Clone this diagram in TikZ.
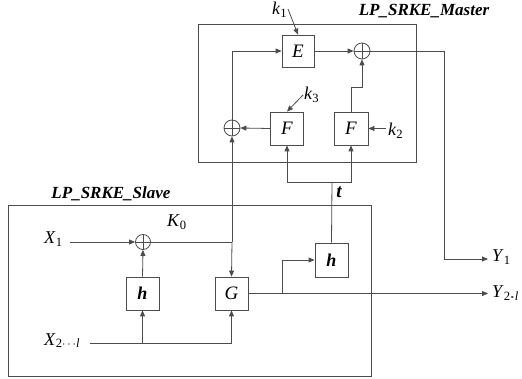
\documentclass[tikz,border=0pt]{standalone}
\usepackage{fontspec}
\setmainfont{Liberation Serif}
\usetikzlibrary{arrows.meta}
\begin{document}
\begin{tikzpicture}[x=1pt,y=-1pt,
  line/.style={draw=black!70, line width=0.8pt},
  arr/.style={line, -{Triangle[length=6pt,width=5pt]}},
  blk/.style={draw=black!70, line width=0.8pt, minimum width=33pt, minimum height=33pt, inner sep=0pt, font=\fontsize{19}{19}\selectfont\itshape},
  hblk/.style={blk, font=\fontsize{18}{18}\selectfont\bfseries\itshape},
  xorn/.style={circle, draw=black!70, line width=0.8pt, minimum size=16pt, inner sep=0pt,
     path picture={\draw[black!70,line width=0.8pt] (path picture bounding box.north) -- (path picture bounding box.south) (path picture bounding box.west) -- (path picture bounding box.east);}},
  lbl/.style={font=\fontsize{18}{18}\selectfont, inner sep=1pt, anchor=base west},
  title/.style={font=\fontsize{17}{17}\selectfont\bfseries\itshape, inner sep=0pt, anchor=base}
]
\useasboundingbox (0,0) rectangle (522,379);
% frames
\node[draw=black!70, line width=0.8pt, minimum width=218pt, minimum height=138pt, inner sep=0pt] (master) at (307,93) {};
\node[draw=black!70, line width=0.8pt, minimum width=363pt, minimum height=171pt, inner sep=0pt] (slave) at (189.5,290.5) {};
\node[title] (mt) at (424,16) {LP\_SRKE\_Master};
\node[title] (st) at (111,199) {LP\_SRKE\_Slave};
% blocks
\node[blk, minimum width=32pt, minimum height=32pt] (E) at (298,51) {E};
\node[xorn] (xT) at (362,51) {};
\node[blk] (FL) at (287,128.5) {F};
\node[blk, minimum width=34pt] (FR) at (351,128.5) {F};
\node[xorn] (xL) at (232,128) {};
\node[xorn, minimum size=15pt] (xS) at (143,242) {};
\node[hblk] (hL) at (142.5,293.5) {h};
\node[blk] (G) at (231.5,293.5) {G};
\node[hblk, minimum height=34pt] (hR) at (331.5,260) {h};
% labels
\node[lbl] (k1) at (271,15) {\textit{k}\textsubscript{1}};
\node[lbl] (k3) at (303,100) {\textit{k}\textsubscript{3}};
\node[lbl] (k2) at (387,136) {\textit{k}\textsubscript{2}};
\node[lbl] (X1) at (43,244) {\textit{X}\textsubscript{1}};
\node[lbl] (X2) at (43,345) {\textit{X}\textsubscript{2$\cdots$\textit{l}}};
\node[lbl] (K0) at (166,227) {\textit{K}\textsubscript{0}};
\node[lbl] (Y1) at (491,262) {\textit{Y}\textsubscript{1}};
\node[lbl] (Y2) at (491,298) {\textit{Y}\textsubscript{2${\cdot}\mkern-4mu{\cdot}\mkern-4mu{\cdot}$\textit{l}}};
\node[font=\fontsize{19}{19}\selectfont\bfseries\itshape, inner sep=0pt, anchor=base] (t) at (339,198) {t};
% coordinates
\coordinate (jK) at (232,242);
\coordinate (tj) at (332,182);
\coordinate (bR) at (351,87);
\coordinate (cY) at (444,51);
\coordinate (jG) at (282,293.5);
\coordinate (eY1) at (488,259);
\coordinate (eY2) at (488,293.5);
\coordinate (sX1) at (70,242);
\coordinate (sX2) at (90,343);
\coordinate (sk1) at (288,9);
\coordinate (sk3) at (303,95);
\coordinate (sk2) at (386,128.5);
% connectors
\draw[line] (xS.east) -- (jK);
\draw[arr] (jK) -- (xL.south);
\draw[arr] (jK) -- (G.north);
\draw[arr] (xL.north) |- (E.west);
\draw[arr] (E.east) -- (xT.west);
\draw[arr] (FR.north) -- (bR) -| (xT.south);
\draw[arr] (FL.west) -- (xL.east);
\draw[line] (xT.east) -- (cY);
\draw[arr] (cY) |- (eY1);
\draw[arr] (G.east) -- (eY2);
\draw[arr] (jG) |- (hR.west);
\draw[line] (hR.north) -- (tj);
\draw[arr] (tj) -| (FL.south);
\draw[arr] (tj) -| (FR.south);
\draw[arr] (sX1) -- (xS.west);
\draw[arr] (sX2) -| (G.south);
\draw[arr] (hL.south |- sX2) -- (hL.south);
\draw[arr] (hL.north) -- (xS.south);
\draw[arr] (sk1) -- (E.north);
\draw[arr] (sk3) -- (FL.north);
\draw[arr] (sk2) -- (FR.east);
\end{tikzpicture}
\end{document}
